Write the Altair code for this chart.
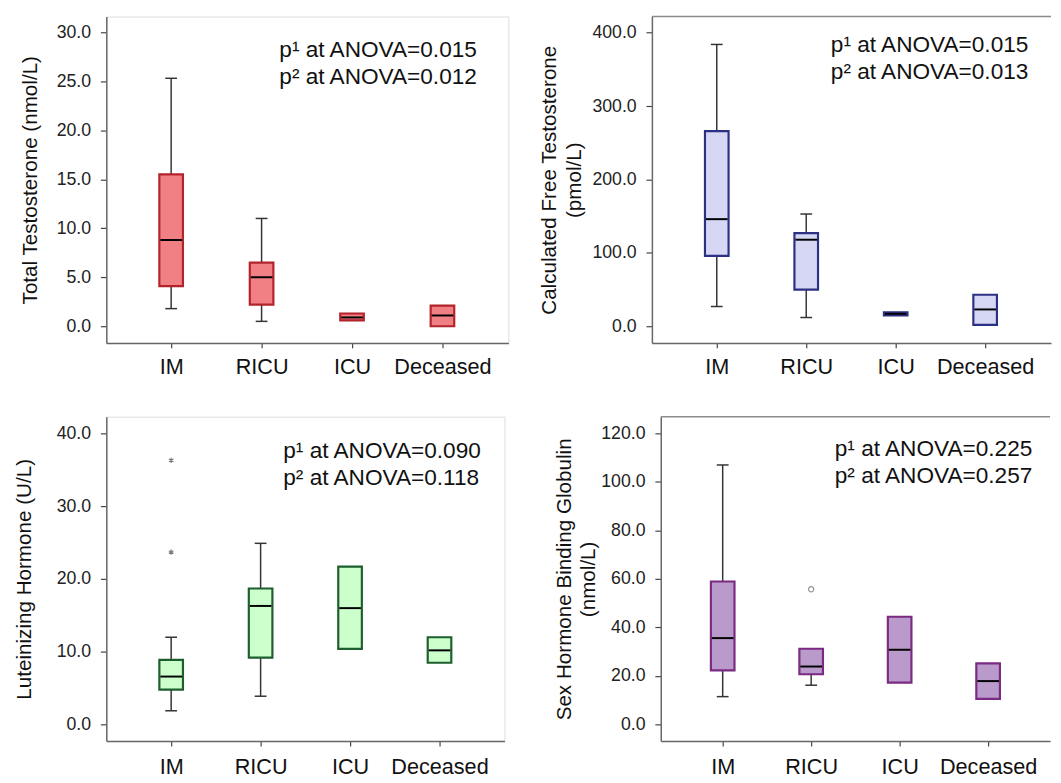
import altair as alt
import pandas as pd

FONT = "Liberation Sans"

categories = ["IM", "RICU", "ICU", "Deceased"]
positions = [1, 2, 3, 4]

# Panel A: Total Testosterone (nmol/L)
tt_low = [1.8, 0.5, None, None]
tt_q1 = [4.1, 2.2, 0.6, 0.0]
tt_median = [8.8, 5.0, 0.9, 1.1]
tt_q3 = [15.5, 6.5, 1.3, 2.1]
tt_high = [25.3, 11.0, None, None]
tt_ticks = [0, 5, 10, 15, 20, 25, 30]
tt_text = "p\u00b9 at ANOVA=0.015\np\u00b2 at ANOVA=0.012"

# Panel B: Calculated Free Testosterone (pmol/L)
cft_low = [27, 12, None, None]
cft_q1 = [96, 50, 15, 2]
cft_median = [146, 118, 17, 23]
cft_q3 = [266, 127, 19, 43]
cft_high = [384, 153, None, None]
cft_ticks = [0, 100, 200, 300, 400]
cft_text = "p\u00b9 at ANOVA=0.015\np\u00b2 at ANOVA=0.013"

# Panel C: Luteinizing Hormone (U/L)
lh_low = [1.9, 3.9, None, None]
lh_q1 = [4.8, 9.2, 10.4, 8.5]
lh_median = [6.6, 16.3, 16.0, 10.2]
lh_q3 = [8.9, 18.7, 21.7, 12.0]
lh_high = [12.0, 24.9, None, None]
lh_extreme_pos = [1, 1]
lh_extreme_val = [36.3, 23.7]
lh_ticks = [0, 10, 20, 30, 40]
lh_text = "p\u00b9 at ANOVA=0.090\np\u00b2 at ANOVA=0.118"

# Panel D: Sex Hormone Binding Globulin (nmol/L)
shbg_low = [11.5, 16.2, None, None]
shbg_q1 = [22.3, 20.7, 17.3, 10.6]
shbg_median = [35.6, 23.9, 30.8, 17.9]
shbg_q3 = [58.9, 31.2, 44.4, 25.2]
shbg_high = [106.9, None, None, None]
shbg_outlier_pos = [2]
shbg_outlier_val = [55.7]
shbg_ticks = [0, 20, 40, 60, 80, 100, 120]
shbg_text = "p\u00b9 at ANOVA=0.225\np\u00b2 at ANOVA=0.257"

label_expr = "[" + ",".join("'" + c + "'" for c in categories) + "][datum.value - 1]"
ASTERISK = "M0,-1L0,1M-0.87,-0.5L0.87,0.5M-0.87,0.5L0.87,-0.5"


def panel(low, q1, med, q3, high, fill, stroke, title, ydom, yticks, xdom,
          width, height, text, tx, ty, title_pad, xlab_pad, right=False,
          extra=None, spacer=None):
    df = pd.DataFrame({"pos": positions, "group": categories, "low": low,
                       "q1": q1, "median": med, "q3": q3, "high": high})
    up = df.dropna(subset=["high"])
    dn = df.dropna(subset=["low"])
    xs = alt.Scale(domain=xdom, nice=False, zero=False)
    ys = alt.Scale(domain=ydom, nice=False, zero=False)
    x = alt.X("pos:Q", scale=xs, axis=alt.Axis(
        values=positions, labelExpr=label_expr, title=None, grid=False,
        tickSize=5, labelPadding=xlab_pad, labelFontSize=22, labelColor="#111",
        domainColor="#666", domainWidth=1.5, tickColor="#444", tickWidth=1.2,
        labelFont=FONT, labelFlush=False))
    yaxis = alt.Axis(title=title, values=yticks, format=".1f", grid=False,
                     tickSize=6, labelPadding=10, labelFontSize=18,
                     labelColor="#222", titleFontSize=21, titleFont=FONT,
                     labelFont=FONT, titleFontWeight="normal", titleColor="#111",
                     titlePadding=title_pad, titleLineHeight=25,
                     domainColor="#666", domainWidth=1.5, tickColor="#444",
                     tickWidth=1.2)
    whisk_up = alt.Chart(up).mark_rule(color="#333", strokeWidth=1.5).encode(
        x=x, y=alt.Y("q3:Q", scale=ys, axis=yaxis), y2="high:Q")
    whisk_dn = alt.Chart(dn).mark_rule(color="#333", strokeWidth=1.5).encode(
        x=x, y=alt.Y("low:Q", scale=ys, axis=yaxis), y2="q1:Q")
    cap_up = alt.Chart(up).mark_rule(color="#333", strokeWidth=1.5,
                                     xOffset=-6, x2Offset=6).encode(
        x=x, x2="pos:Q", y=alt.Y("high:Q", scale=ys, axis=yaxis))
    cap_dn = alt.Chart(dn).mark_rule(color="#333", strokeWidth=1.5,
                                     xOffset=-6, x2Offset=6).encode(
        x=x, x2="pos:Q", y=alt.Y("low:Q", scale=ys, axis=yaxis))
    box = alt.Chart(df).mark_rect(fill=fill, stroke=stroke, strokeWidth=2.2,
                                  xOffset=-12, x2Offset=12).encode(
        x=x, x2="pos:Q", y=alt.Y("q1:Q", scale=ys, axis=yaxis), y2="q3:Q")
    mid = alt.Chart(df).mark_rule(color="#000", strokeWidth=2,
                                  xOffset=-11, x2Offset=11).encode(
        x=x, x2="pos:Q", y=alt.Y("median:Q", scale=ys, axis=yaxis))
    txt = alt.Chart(pd.DataFrame({"label": [text]})).mark_text(
        align="left", baseline="alphabetic", fontSize=23, font=FONT,
        lineBreak="\n", lineHeight=28, color="#111").encode(
        x=alt.value(tx), y=alt.value(ty), text="label:N")
    layers = [whisk_up, whisk_dn, cap_up, cap_dn, box, mid]
    if extra is not None:
        layers.append(extra(x, ys, yaxis))
    layers.append(txt)
    if right:
        top = alt.Chart(pd.DataFrame({"a": [0]})).mark_rule(
            color="#8c8c8c", strokeWidth=1.5).encode(
            x=alt.value(0), x2=alt.value(width), y=alt.value(0))
        layers.append(top)
    if spacer is not None:
        # invisible layout spacer so both rows share the same left edge
        sp = alt.Chart(pd.DataFrame({"a": [0]})).mark_rule(
            opacity=0, strokeWidth=1).encode(
            x=alt.value(spacer), y=alt.value(100), y2=alt.value(110))
        layers.append(sp)
    ch = alt.layer(*layers).properties(width=width, height=height)
    if right:
        ch = ch.properties(view=alt.ViewBackground(stroke="transparent"))
    return ch


def lh_extremes(x, ys, yaxis):
    d = pd.DataFrame({"pos": lh_extreme_pos, "val": lh_extreme_val})
    return alt.Chart(d).mark_point(shape=ASTERISK, size=28, filled=False,
                                   color="#444", strokeWidth=1.2).encode(
        x=x, y=alt.Y("val:Q", scale=ys, axis=yaxis))


def shbg_outliers(x, ys, yaxis):
    d = pd.DataFrame({"pos": shbg_outlier_pos, "val": shbg_outlier_val})
    return alt.Chart(d).mark_point(shape="circle", size=28, filled=False,
                                   color="#666", strokeWidth=1.2).encode(
        x=x, y=alt.Y("val:Q", scale=ys, axis=yaxis))


pA = panel(tt_low, tt_q1, tt_median, tt_q3, tt_high, "#F08084", "#B3232B",
           "Total Testosterone (nmol/L)", [-1.7, 31.6], tt_ticks,
           [0.283, 4.729], 409, 332, tt_text, 176, 41, 16, 9, spacer=-96)
pB = panel(cft_low, cft_q1, cft_median, cft_q3, cft_high, "#D5D7F5", "#2C3082",
           ["Calculated Free Testosterone", "(pmol/L)"], [-22.6, 422],
           cft_ticks, [0.275, 0.275 + 406 / 91], 406, 332, cft_text, 182, 36,
           8, 9, right=True)
pC = panel(lh_low, lh_q1, lh_median, lh_q3, lh_high, "#CCFFCC", "#1D5E2E",
           "Luteinizing Hormone (U/L)", [-2.26, 42.3], lh_ticks,
           [0.275, 4.726], 405, 330, lh_text, 180, 42, 22, 11,
           extra=lh_extremes)
pD = panel(shbg_low, shbg_q1, shbg_median, shbg_q3, shbg_high, "#B99ACB",
           "#7B2A82", ["Sex Hormone Binding Globulin", "(nmol/L)"],
           [-6.8, 126.8], shbg_ticks, [0.3, 0.3 + 396 / 90], 396, 330,
           shbg_text, 177, 40, 2, 11, right=True, extra=shbg_outliers)

row1 = alt.hconcat(pA, pB, spacing=146, bounds="flush")
row2 = alt.hconcat(pC, pD, spacing=159, bounds="flush")
chart = alt.vconcat(row1, row2, spacing=37).properties(
    padding={"left": 3, "top": 0, "right": 0, "bottom": 0}
).configure_view(stroke="#8c8c8c", strokeWidth=1.5).configure(
    font=FONT, background="white")

chart.save("out.html", embed_options={"renderer": "svg", "actions": False})
